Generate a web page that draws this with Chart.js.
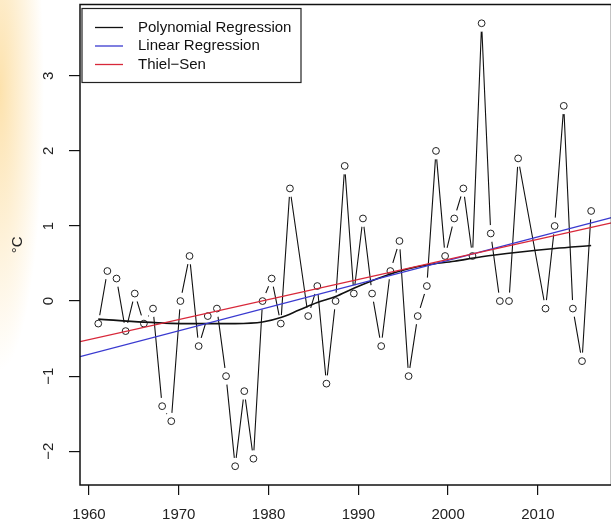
<!DOCTYPE html>
<html>
<head>
<meta charset="utf-8">
<script src="https://cdn.jsdelivr.net/npm/chart.js@4.4.0/dist/chart.umd.min.js"></script>
<style>
  html, body { margin: 0; padding: 0; overflow: hidden; }
  body {
    width: 611px; height: 526px;
    background:
      radial-gradient(ellipse 44px 280px at 0 90px, rgba(252, 216, 145, 0.75), rgba(255, 255, 255, 0) 100%),
      #fff;
  }
  /* the scale keeps ~9px above the plot for its end label, so lift the canvas a little */
  canvas { display: block; margin-top: -4px; }
</style>
</head>
<body>
<canvas id="chart" width="620" height="530"></canvas>
<script>
// annual anomalies, one slot per observation (null = no value, line is joined across)
const values = [
  -0.3, 0.4, 0.3, -0.4, 0.1, -0.3, -0.1, -1.4, -1.6, 0.0,
   0.6, -0.6, -0.2, -0.1, -1.0, -2.2, -1.2, -2.1, 0.0, 0.3,
  -0.3, 1.5, null, -0.2, 0.2, -1.1, 0.0, 1.8, 0.1, 1.1,
   0.1, -0.6, 0.4, 0.8, -1.0, -0.2, 0.2, 2.0, 0.6, 1.1,
   1.5, 0.6, 3.7, 0.9, 0.0, 0.0, 1.9, null, null, -0.1,
   1.0, 2.6, -0.1, -0.8, 1.2
];
const obsIndex = values.map((v, i) => i);

// polynomial fit
const polySlots  = [0, 5, 10, 15, 18, 20, 22, 24, 26, 28, 30, 32, 34, 36, 39, 42, 46, 50, 54];
const polyValues = [-0.24, -0.28, -0.30, -0.30, -0.28, -0.22, -0.12, -0.02, 0.06, 0.17,
                    0.27, 0.36, 0.43, 0.48, 0.53, 0.59, 0.65, 0.70, 0.74];

// straight fits, value at each end of the year range
const fitYears  = [1959.0, 2018.2];
const linearFit = [-0.74, 1.11];
const thielSen  = [-0.54, 1.04];

const yearTicks = [1960, 1970, 1980, 1990, 2000, 2010];
const yTicks    = [-2, -1, 0, 1, 2, 3];

const FONT = { family: '"Liberation Sans", Arial, Helvetica, sans-serif', size: 15 };
const minus = v => String(v).replace('-', '\u2212');

const pts = values.map((v, i) => ({ x: obsIndex[i], y: v }));

// no extra room for half labels at the scale ends
const noEndPad = s => { s.paddingTop = 0; s.paddingBottom = 0; s.paddingLeft = 0; s.paddingRight = 0; };

// box round the plot region
const frame = {
  id: 'frame',
  afterDraw(chart) {
    const { ctx, chartArea: a } = chart;
    ctx.save();
    ctx.strokeStyle = '#111';
    ctx.lineWidth = 1.5;
    ctx.strokeRect(a.left, a.top, a.right - a.left, a.bottom - a.top);
    ctx.restore();
  }
};

// boxed legend in the top left corner
const legendBox = {
  id: 'legendBox',
  afterDraw(chart) {
    const { ctx, chartArea: a } = chart;
    const items = chart.data.datasets.filter(d => d.inLegend).sort((p, q) => q.order - p.order);
    const x0 = a.left + 2, y0 = a.top + 4, rowH = 18.5;
    ctx.save();
    ctx.fillStyle = '#fff';
    ctx.fillRect(x0, y0, 219, 74);
    ctx.strokeStyle = '#222';
    ctx.lineWidth = 1.2;
    ctx.strokeRect(x0, y0, 219, 74);
    ctx.font = FONT.size + 'px ' + FONT.family;
    ctx.textBaseline = 'middle';
    items.forEach((d, i) => {
      const y = y0 + 19 + i * rowH;
      ctx.strokeStyle = d.borderColor;
      ctx.lineWidth = 1.3;
      ctx.beginPath();
      ctx.moveTo(x0 + 13, y);
      ctx.lineTo(x0 + 41, y);
      ctx.stroke();
      ctx.fillStyle = '#111';
      ctx.fillText(d.label, x0 + 56, y);
    });
    ctx.restore();
  }
};

new Chart(document.getElementById('chart'), {
  type: 'line',
  data: {
    datasets: [
      {
        label: 'Thiel\u2212Sen', inLegend: true, order: 1, xAxisID: 'x',
        data: fitYears.map((x, i) => ({ x, y: thielSen[i] })),
        borderColor: '#d8283a', borderWidth: 1.3, pointRadius: 0
      },
      {
        label: 'Linear Regression', inLegend: true, order: 2, xAxisID: 'x',
        data: fitYears.map((x, i) => ({ x, y: linearFit[i] })),
        borderColor: '#3a3ad0', borderWidth: 1.3, pointRadius: 0
      },
      {
        label: 'Polynomial Regression', inLegend: true, order: 3, xAxisID: 'xi',
        data: polySlots.map((x, i) => ({ x, y: polyValues[i] })),
        borderColor: '#111', borderWidth: 1.6, pointRadius: 0,
        cubicInterpolationMode: 'monotone'
      },
      {
        label: 'obs', order: 4, xAxisID: 'xi', data: pts, showLine: false,
        pointRadius: 3.4, pointBorderWidth: 1, pointBorderColor: '#222', pointBackgroundColor: '#fff'
      },
      {
        label: 'gap', order: 5, xAxisID: 'xi', data: pts, showLine: false,
        pointRadius: 8.5, pointBorderWidth: 0, pointBackgroundColor: '#fff', pointBorderColor: '#fff'
      },
      {
        label: 'series', order: 6, xAxisID: 'xi', data: pts, spanGaps: true,
        borderColor: '#111', borderWidth: 1.1, pointRadius: 0, tension: 0
      }
    ]
  },
  options: {
    responsive: false,
    animation: false,
    events: [],
    layout: { padding: { top: 0, right: 6, left: 0, bottom: 0 } },
    plugins: { legend: { display: false }, tooltip: { enabled: false } },
    scales: {
      x: {
        type: 'linear', position: 'bottom', min: fitYears[0], max: fitYears[1],
        afterBuildTicks: s => { s.ticks = yearTicks.map(v => ({ value: v })); },
        afterFit: s => { s.height = 41; noEndPad(s); },
        border: { display: false },
        grid: { drawOnChartArea: false, drawTicks: true, tickLength: 10, color: '#111', lineWidth: 1.2 },
        ticks: { font: FONT, color: '#222', padding: 11, maxRotation: 0, autoSkip: false, callback: v => minus(v) }
      },
      xi: { type: 'linear', display: false, min: -2.0, max: 56.23 },
      y: {
        type: 'linear', position: 'left', min: -2.45, max: 3.95,
        afterBuildTicks: s => { s.ticks = yTicks.map(v => ({ value: v })); },
        afterFit: s => { s.width = 80; noEndPad(s); },
        border: { display: false },
        grid: { drawOnChartArea: false, drawTicks: true, tickLength: 11, color: '#111', lineWidth: 1.2 },
        ticks: { font: FONT, color: '#222', padding: 12, minRotation: 90, maxRotation: 90,
                 crossAlign: 'center', autoSkip: false, callback: v => minus(v) },
        title: { display: true, text: '\u00B0C', font: FONT, color: '#222', padding: { top: 9, bottom: 0 } }
      }
    }
  },
  plugins: [frame, legendBox]
});
</script>
</body>
</html>
